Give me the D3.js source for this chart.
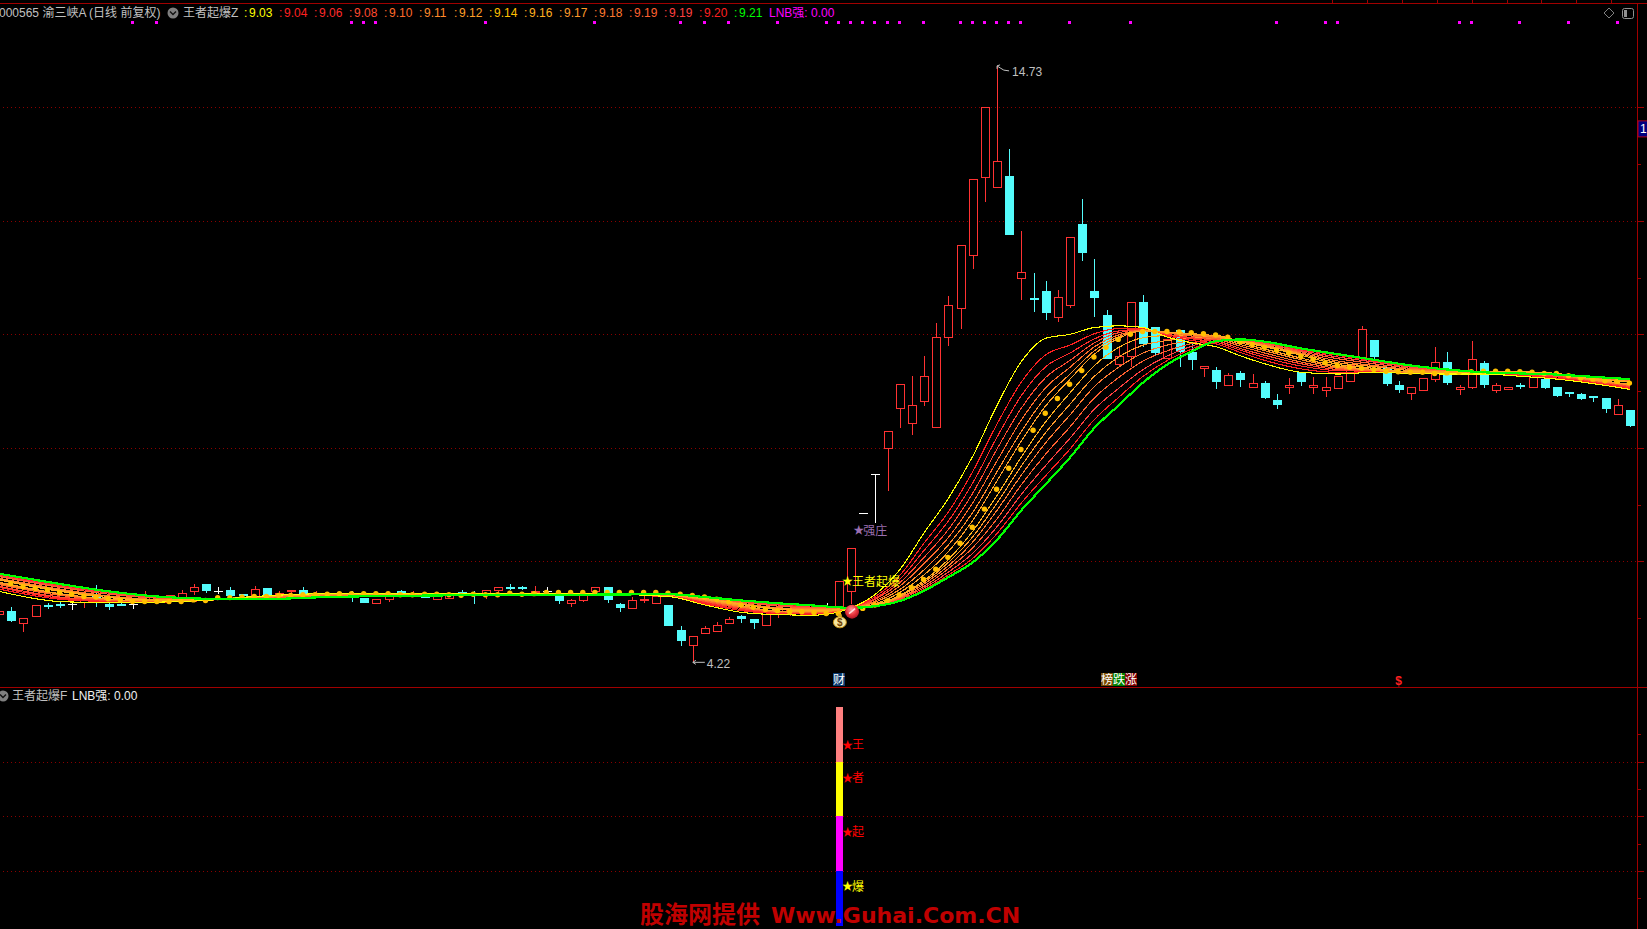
<!DOCTYPE html>
<html><head><meta charset="utf-8">
<style>
html,body{margin:0;padding:0;background:#000;overflow:hidden}
svg{display:block}
text{font-family:"Liberation Sans","Noto Sans CJK SC",sans-serif;font-size:12px}
.cjk{font-family:"Noto Sans CJK SC","Liberation Sans",sans-serif}
</style>
<script src="https://cdn.jsdelivr.net/npm/d3@7/dist/d3.min.js"></script>
</head><body><svg id="c" width="1647" height="929"></svg>
<script>
// ---------- candles, bars -1..133 ----------
const opens=[5.08,5.13,4.92,5.04,5.235,5.255,5.24,5.28,5.41,5.25,5.255,5.25,5.29,5.29,5.35,5.37,5.47,5.60,5.48,5.50,5.42,5.38,5.53,5.38,5.47,5.50,5.38,5.38,5.38,5.44,5.35,5.27,5.33,5.47,5.40,5.40,5.33,5.36,5.465,5.44,5.41,5.50,5.555,5.54,5.475,5.47,5.41,5.27,5.31,5.47,5.55,5.25,5.17,5.31,5.27,5.23,4.79,4.53,4.73,4.78,4.92,5.03,4.98,4.88,5.08,5.08,5.14,5.15,5.22,5.17,5.47,6.85,7.53,7.99,8.71,8.43,8.83,8.36,9.95,10.46,11.39,12.78,12.59,12.79,11.00,10.64,10.77,10.31,10.51,11.95,10.77,10.34,9.48,9.62,10.57,10.12,9.59,10.08,9.69,9.40,9.37,9.10,9.32,9.08,9.14,8.84,9.07,9.34,9.07,9.01,9.06,9.18,9.59,9.90,9.43,9.11,8.96,9.01,9.22,9.52,9.03,9.07,9.50,9.01,9.04,9.11,9.08,9.21,9.07,8.975,8.95,8.905,8.88,8.60,8.67];
const highs=[5.13,5.20,5.00,5.23,5.26,5.29,5.29,5.32,5.58,5.29,5.30,5.29,5.48,5.35,5.40,5.50,5.60,5.60,5.54,5.54,5.42,5.57,5.53,5.48,5.49,5.54,5.48,5.41,5.44,5.47,5.35,5.33,5.45,5.50,5.47,5.40,5.38,5.42,5.50,5.47,5.49,5.54,5.60,5.57,5.57,5.54,5.41,5.34,5.48,5.54,5.55,5.27,5.37,5.38,5.38,5.23,4.86,4.68,4.86,4.93,5.01,5.05,4.98,5.11,5.17,5.17,5.21,5.20,5.26,5.65,6.23,6.85,7.53,8.29,9.12,9.26,9.62,10.20,10.68,11.57,12.73,14.00,14.73,13.27,11.82,11.08,10.94,10.78,11.71,12.39,11.33,10.43,9.77,10.57,10.70,10.13,9.91,10.08,9.83,9.45,9.42,9.32,9.35,9.30,9.18,8.95,9.23,9.34,9.25,9.25,9.27,9.46,10.15,9.90,9.43,9.18,9.08,9.23,9.78,9.69,9.10,9.88,9.53,9.14,9.08,9.14,9.31,9.25,9.07,8.98,8.97,8.91,8.88,8.86,8.67];
const lows=[5.08,4.93,4.76,5.04,5.16,5.18,5.14,5.18,5.20,5.14,5.21,5.16,5.29,5.29,5.24,5.33,5.41,5.45,5.42,5.39,5.38,5.38,5.39,5.38,5.40,5.39,5.38,5.38,5.38,5.29,5.27,5.25,5.28,5.43,5.40,5.35,5.33,5.33,5.41,5.25,5.34,5.45,5.50,5.50,5.47,5.42,5.25,5.20,5.29,5.47,5.27,5.10,5.17,5.26,5.25,4.86,4.50,4.22,4.73,4.78,4.90,4.92,4.81,4.88,5.00,5.03,5.14,5.15,5.20,5.17,5.24,6.85,6.68,7.24,8.35,8.23,8.74,8.36,9.80,10.10,11.15,12.33,12.59,11.75,10.60,10.40,10.26,10.22,10.47,11.29,10.31,9.57,9.45,9.43,9.77,9.62,9.59,9.42,9.37,9.25,9.04,9.10,9.07,9.06,8.86,8.69,8.95,9.09,8.95,8.90,9.06,9.18,9.59,9.56,9.09,8.97,8.84,9.01,9.16,9.11,8.93,9.04,9.06,8.97,9.02,9.04,9.08,9.04,8.90,8.90,8.84,8.81,8.61,8.60,8.37];
const closes=[5.13,4.95,5.00,5.23,5.225,5.245,5.24,5.32,5.32,5.20,5.245,5.25,5.41,5.35,5.40,5.44,5.55,5.48,5.48,5.39,5.38,5.51,5.39,5.44,5.49,5.39,5.44,5.41,5.44,5.37,5.27,5.33,5.45,5.43,5.43,5.35,5.38,5.42,5.455,5.39,5.49,5.54,5.545,5.51,5.485,5.47,5.30,5.31,5.41,5.54,5.31,5.18,5.31,5.34,5.38,4.86,4.59,4.68,4.82,4.88,4.98,4.99,4.91,5.07,5.17,5.17,5.21,5.20,5.22,5.65,6.23,6.85,7.53,8.29,9.12,8.75,9.27,9.95,10.51,11.57,12.73,14.00,13.05,11.75,11.09,10.62,10.38,10.65,11.71,11.44,10.64,9.57,9.62,10.57,9.83,9.67,9.91,9.69,9.55,9.45,9.16,9.28,9.20,9.14,8.88,8.76,9.11,9.16,9.11,9.07,9.27,9.46,10.09,9.60,9.13,9.02,9.08,9.23,9.52,9.14,9.08,9.56,9.11,9.10,9.08,9.07,9.31,9.06,8.91,8.965,8.86,8.895,8.69,8.75,8.39];

// ---------- moving-average ribbon, read at these bars ----------
const ribbonBars=[-1,4,8,12,16,20,26,36,46,54,57,60,63,66,69,71,73,75,77,79,81,83,85,87,89,91,93,95,97,99,101,103,106,109,112,115,118,121,124,127,130,133];
const ma1=[5.47,5.29,5.27,5.28,5.31,5.38,5.43,5.44,5.44,5.38,5.23,5.10,5.06,5.05,5.18,5.42,5.85,6.50,7.11,7.85,8.75,9.52,9.93,10.00,10.12,10.15,10.12,9.95,9.85,9.78,9.62,9.48,9.33,9.30,9.33,9.31,9.30,9.30,9.26,9.21,9.13,9.03];
const ma2=[5.51,5.33,5.29,5.28,5.31,5.38,5.43,5.44,5.44,5.39,5.25,5.13,5.08,5.07,5.18,5.38,5.75,6.32,6.87,7.58,8.42,9.16,9.64,9.81,10.01,10.10,10.10,9.97,9.89,9.83,9.68,9.54,9.39,9.33,9.34,9.31,9.30,9.31,9.28,9.23,9.15,9.04];
const ma3=[5.54,5.35,5.30,5.29,5.31,5.38,5.43,5.44,5.44,5.39,5.27,5.15,5.09,5.08,5.18,5.35,5.68,6.19,6.71,7.38,8.19,8.92,9.43,9.67,9.92,10.06,10.09,9.99,9.92,9.86,9.72,9.59,9.44,9.36,9.35,9.32,9.31,9.32,9.29,9.25,9.16,9.06];
const ma4=[5.56,5.37,5.31,5.29,5.31,5.38,5.43,5.44,5.44,5.40,5.29,5.17,5.10,5.09,5.17,5.33,5.62,6.07,6.56,7.20,7.98,8.70,9.24,9.54,9.85,10.03,10.08,10.00,9.94,9.89,9.75,9.63,9.48,9.38,9.36,9.32,9.31,9.33,9.30,9.26,9.17,9.08];
const ma5=[5.59,5.40,5.32,5.29,5.31,5.38,5.42,5.43,5.43,5.40,5.30,5.19,5.11,5.10,5.17,5.30,5.56,5.96,6.42,7.03,7.77,8.49,9.06,9.42,9.78,9.99,10.07,10.02,9.97,9.92,9.79,9.67,9.51,9.40,9.36,9.32,9.31,9.33,9.31,9.28,9.18,9.10];
const ma6=[5.61,5.42,5.33,5.30,5.32,5.38,5.42,5.43,5.43,5.40,5.32,5.20,5.12,5.11,5.17,5.28,5.50,5.85,6.29,6.86,7.58,8.29,8.89,9.30,9.71,9.96,10.06,10.03,9.99,9.95,9.82,9.71,9.55,9.42,9.37,9.33,9.32,9.34,9.32,9.29,9.19,9.11];
const ma7=[5.63,5.43,5.33,5.30,5.32,5.38,5.42,5.43,5.43,5.41,5.33,5.22,5.12,5.11,5.17,5.25,5.45,5.76,6.17,6.72,7.42,8.12,8.74,9.21,9.65,9.93,10.06,10.04,10.01,9.97,9.85,9.74,9.58,9.44,9.38,9.33,9.32,9.35,9.33,9.30,9.20,9.12];
const ma9=[5.67,5.47,5.36,5.31,5.32,5.37,5.41,5.43,5.43,5.41,5.34,5.24,5.15,5.13,5.17,5.23,5.40,5.66,6.03,6.53,7.16,7.84,8.46,8.97,9.45,9.77,9.94,9.98,9.99,9.98,9.87,9.78,9.63,9.47,9.40,9.34,9.33,9.35,9.34,9.31,9.21,9.16];
const ma10=[5.69,5.49,5.38,5.32,5.33,5.37,5.41,5.42,5.42,5.41,5.35,5.25,5.17,5.15,5.17,5.22,5.38,5.63,5.98,6.43,7.03,7.68,8.27,8.77,9.26,9.60,9.81,9.89,9.94,9.96,9.88,9.80,9.65,9.50,9.43,9.36,9.34,9.34,9.33,9.30,9.22,9.17];
const ma11=[5.70,5.51,5.39,5.33,5.33,5.36,5.40,5.42,5.42,5.41,5.35,5.26,5.18,5.16,5.17,5.22,5.36,5.60,5.92,6.34,6.90,7.52,8.09,8.58,9.08,9.42,9.67,9.81,9.89,9.94,9.89,9.81,9.67,9.53,9.45,9.38,9.35,9.34,9.33,9.30,9.23,9.18];
const ma12=[5.73,5.54,5.42,5.35,5.33,5.35,5.39,5.41,5.42,5.42,5.36,5.28,5.21,5.18,5.18,5.22,5.35,5.56,5.87,6.24,6.75,7.35,7.89,8.37,8.88,9.24,9.53,9.71,9.84,9.93,9.89,9.83,9.69,9.57,9.48,9.40,9.35,9.34,9.32,9.30,9.23,9.19];
const ma13=[5.75,5.56,5.44,5.36,5.33,5.34,5.38,5.41,5.42,5.42,5.36,5.29,5.23,5.19,5.18,5.21,5.33,5.53,5.81,6.14,6.61,7.18,7.69,8.17,8.68,9.05,9.38,9.62,9.79,9.91,9.90,9.84,9.71,9.60,9.51,9.42,9.36,9.34,9.32,9.30,9.24,9.19];
const ma14=[5.76,5.58,5.45,5.37,5.34,5.34,5.38,5.40,5.41,5.42,5.37,5.30,5.24,5.21,5.18,5.21,5.31,5.50,5.76,6.05,6.49,7.03,7.51,7.98,8.50,8.89,9.26,9.54,9.74,9.89,9.91,9.86,9.73,9.63,9.53,9.44,9.37,9.33,9.31,9.29,9.25,9.20];
const ma15=[5.78,5.60,5.47,5.38,5.34,5.33,5.37,5.40,5.41,5.42,5.37,5.31,5.26,5.22,5.18,5.21,5.30,5.48,5.72,5.98,6.38,6.90,7.36,7.83,8.35,8.75,9.15,9.47,9.70,9.88,9.91,9.87,9.75,9.65,9.55,9.45,9.38,9.33,9.31,9.29,9.25,9.21];
// gold dotted middle line, bars 0..133
const ma8=[5.61,5.55,5.52,5.50,5.45,5.42,5.38,5.37,5.34,5.32,5.29,5.29,5.29,5.29,5.29,5.32,5.31,5.36,5.36,5.37,5.38,5.38,5.40,5.40,5.41,5.41,5.42,5.43,5.43,5.43,5.43,5.43,5.41,5.41,5.42,5.42,5.41,5.40,5.42,5.41,5.41,5.44,5.42,5.43,5.45,5.45,5.45,5.45,5.45,5.45,5.45,5.45,5.45,5.45,5.44,5.42,5.40,5.37,5.33,5.29,5.23,5.19,5.15,5.13,5.11,5.11,5.10,5.08,5.08,5.14,5.17,5.23,5.30,5.41,5.54,5.68,5.86,6.07,6.32,6.60,6.92,7.27,7.64,7.97,8.31,8.61,8.87,9.12,9.36,9.60,9.77,9.91,10.00,10.05,10.05,10.05,10.04,10.03,10.01,9.99,9.95,9.87,9.82,9.77,9.72,9.67,9.61,9.56,9.50,9.45,9.42,9.40,9.38,9.35,9.34,9.33,9.33,9.31,9.32,9.33,9.34,9.35,9.35,9.35,9.34,9.33,9.31,9.31,9.27,9.23,9.21,9.18,9.17,9.14];

const legendValues=["9.03","9.04","9.06","9.08","9.10","9.11","9.12","9.14","9.16","9.17","9.18","9.19","9.19","9.20","9.21"];
const legendColors=["#ffff00","#ff2020","#ff2a2a","#ff4a30","#ff6a2a","#ff8a2a","#ff9f28","#ffc000","#ffb020","#ff9a2a","#ff7a30","#ff6030","#ff4040","#ff2020","#00ff00"];
const signalBars=[10,12,28,29,30,39,48,55,57,59,63,67,68,69,70,71,72,73,75,78,79,80,81,82,83,87,92,104,108,109,119,120,124,128,132];
const priceGrid=[14,12,10,8,6];
const priceMinor=[13,11,9,7,5];
const lowerGrid=[1,2,3];
const lowerSegments=[[3,4,"#ff8080"],[2,3,"#ffff00"],[1,2,"#ff00ff"],[0,1,"#0000ff"]];
const lowerLabels=[["王",3.33,"#ff0000"],["者",2.72,"#ff0000"],["起",1.73,"#ff0000"],["爆",0.74,"#ffff00"]];
const lowerBar=68;
const tagCells=[["财",68,"#0a3a70"],["榜",90,"#7a4a00"],["跌",91,"#008000"],["涨",92,"#800000"]];

const AXIS="#a00000", GRID="#8a0000", UP="#ff3232", DOWN="#54fcfc";
const svg=d3.select("#c");
const bars=d3.range(-1,134);
const x=d3.scaleLinear().domain([0,133]).range([11.3,1629.9]);
const y=d3.scaleLinear().domain([14,6]).range([107.3,561.3]);
const yLow=d3.scaleLinear().domain([0,4]).range([925.5,707]);
const px=i=>Math.round(x(i));

svg.append("rect").attr("width",1647).attr("height",929).attr("fill","#000");

// grid
const grid=svg.append("g").attr("shape-rendering","crispEdges");
grid.selectAll(".g1").data(priceGrid).join("line").attr("x1",3).attr("x2",1637)
  .attr("y1",d=>Math.round(y(d))+.5).attr("y2",d=>Math.round(y(d))+.5)
  .attr("stroke",GRID).attr("stroke-dasharray","1,3");
grid.selectAll(".g2").data(lowerGrid).join("line").attr("x1",3).attr("x2",1637)
  .attr("y1",d=>Math.round(yLow(d))+.5).attr("y2",d=>Math.round(yLow(d))+.5)
  .attr("stroke",GRID).attr("stroke-dasharray","1,3");

// right axes, top line, panel split
function rightAxis(scale,major,minor){
  const g=svg.append("g").attr("transform","translate(1637.5,0)");
  g.call(d3.axisRight(scale).tickValues(major).tickSize(6).tickFormat(""));
  const g2=svg.append("g").attr("transform","translate(1637.5,0)");
  g2.call(d3.axisRight(scale).tickValues(minor).tickSize(3).tickFormat(""));
  [g,g2].forEach(a=>{a.attr("shape-rendering","crispEdges");a.selectAll("line").attr("stroke",AXIS);a.select(".domain").remove();});
}
rightAxis(y,priceGrid,priceMinor);
rightAxis(yLow,lowerGrid,[0.5,1.5,2.5,3.5]);
const frame=svg.append("g").attr("shape-rendering","crispEdges").attr("stroke",AXIS);
frame.append("line").attr("x1",0).attr("x2",1647).attr("y1",3.5).attr("y2",3.5);
frame.append("line").attr("x1",0).attr("x2",1647).attr("y1",687.5).attr("y2",687.5);
frame.append("line").attr("x1",1637.5).attr("x2",1637.5).attr("y1",3).attr("y2",929);
frame.selectAll(".t").data(d3.range(0,9)).join("line")
  .attr("x1",d=>1332.5+d*34.9).attr("x2",d=>1332.5+d*34.9).attr("y1",0).attr("y2",3);

// candles
const cg=svg.append("g").attr("shape-rendering","crispEdges");
bars.forEach((b,k)=>{
  const o=opens[k],h=highs[k],l=lows[k],c=closes[k],cx=px(b);
  const up=c>o, flat=c===o, col=flat?"#ffffff":(up?UP:DOWN);
  cg.append("line").attr("x1",cx+.5).attr("x2",cx+.5).attr("y1",y(h)).attr("y2",y(l)).attr("stroke",col);
  if(flat){
    cg.append("line").attr("x1",cx-4).attr("x2",cx+5).attr("y1",Math.round(y(o))+.5).attr("y2",Math.round(y(o))+.5).attr("stroke",col);
  }else if(up){
    cg.append("rect").attr("x",cx-3.5).attr("width",8).attr("y",Math.round(y(c))+.5)
      .attr("height",Math.max(1,Math.round(y(o))-Math.round(y(c)))).attr("fill","#000").attr("stroke",col);
  }else{
    cg.append("rect").attr("x",cx-4).attr("width",9).attr("y",Math.round(y(o)))
      .attr("height",Math.max(2,Math.round(y(c))-Math.round(y(o)))).attr("fill",col);
  }
});

// ribbon lines
const line=d3.line().x((d,i)=>x(ribbonBars[i])).y(d=>y(d)).curve(d3.curveMonotoneX);
const ribbon=svg.append("g").attr("fill","none").attr("shape-rendering","crispEdges");
[[ma14,13],[ma13,12],[ma12,11],[ma11,10],[ma10,9],[ma9,8],[ma2,1],[ma3,2],[ma4,3],[ma5,4],[ma6,5],[ma7,6],[ma1,0]].forEach(([s,c])=>{
  ribbon.append("path").attr("d",line(s)).attr("stroke",legendColors[c]).attr("stroke-width",1.1);
});
// gold dots
svg.append("g").selectAll("circle").data(ma8).join("circle")
  .attr("cx",(d,i)=>x(i)-.5).attr("cy",d=>y(d)).attr("r",2.7).attr("fill",legendColors[7]);
// green line on top
svg.append("path").attr("d",line(ma15)).attr("fill","none").attr("stroke",legendColors[14])
  .attr("stroke-width",2.2).attr("shape-rendering","crispEdges");

// signal squares
svg.append("g").attr("shape-rendering","crispEdges").selectAll("rect").data(signalBars).join("rect")
  .attr("x",d=>px(d)-2).attr("y",21).attr("width",3).attr("height",3).attr("fill","#ff00ff");

// title row
const T=(a,s,xx,yy,col,extra)=>{const t=svg.append(a||"text").attr("x",xx).attr("y",yy).attr("fill",col).text(s);if(extra)t.attr("class",extra);return t;};
T("text","000565 渝三峡A (日线 前复权)",-1,17,"#c0c0c0");
T("text","王者起爆Z",183,17,"#c0c0c0");
function icon(cx,cy){
  svg.append("circle").attr("cx",cx).attr("cy",cy).attr("r",5.5).attr("fill","#808080");
  svg.append("path").attr("d",`M${cx-3},${cy-1.5}L${cx},${cy+1.5}L${cx+3},${cy-1.5}`).attr("fill","none").attr("stroke","#111").attr("stroke-width",1.4);
}
icon(173,13); icon(3,696);
legendValues.forEach((v,i)=>{
  T("text",":",244+i*35,17,legendColors[i]);
  T("text",v,249+i*35,17,legendColors[i]);
});
T("text","LNB强: 0.00",769,17,"#ff00ff");

// lower-panel title
T("text","王者起爆F",12,700,"#c0c0c0");
T("text","LNB强: 0.00",72,700,"#f0f0f0");

// top-right icons
svg.append("path").attr("d","M1609,8L1614,13L1609,18L1604,13Z").attr("fill","none").attr("stroke","#808080");
svg.append("rect").attr("x",1622.5).attr("y",8.5).attr("width",11).attr("height",10).attr("rx",2).attr("fill","none").attr("stroke","#909090");
svg.append("rect").attr("x",1624).attr("y",10).attr("width",3).attr("height",7).attr("fill","#909090");

// price flag at right edge
const flagY=y(13.62);
svg.append("rect").attr("x",1638).attr("y",flagY-8).attr("width",10).attr("height",16).attr("fill","#000080").attr("stroke","#b00020");
T("text","1",1640,flagY+4,"#ffffff");

// low and high marks
const lowX=x(56),lowY=y(4.22);
svg.append("path").attr("d",`M${lowX+12},${lowY}H${lowX}M${lowX+3},${lowY-2}L${lowX},${lowY}L${lowX+3},${lowY+2}`).attr("fill","none").attr("stroke","#c0c0c0");
T("text","4.22",lowX+14,lowY+5.5,"#c0c0c0");
const hiX=x(81),hiY=y(14.73);
svg.append("path").attr("d",`M${hiX+12},${hiY+5}Q${hiX+6},${hiY+5} ${hiX+3},${hiY+2}L${hiX},${hiY}L${hiX},${hiY+3}M${hiX},${hiY}L${hiX+3},${hiY-1}`).attr("fill","none").attr("stroke","#c0c0c0");
T("text","14.73",hiX+15,hiY+10,"#c0c0c0");

// annotations: star then label
function starLabel(s,sx,cy,col){
  svg.append("text").attr("x",sx).attr("y",cy+4).attr("text-anchor","middle").attr("fill",col).style("font-size","11px").text("★");
  svg.append("text").attr("x",sx+4.5).attr("y",cy+4.5).attr("fill",col).text(s);
}
starLabel("王者起爆",x(68)+8.7,y(5.65),"#ffff00");
starLabel("强庄",x(70)-4.5,y(6.55),"#9b6fb0");

// ball and money bag
const defs=svg.append("defs");
const rg=defs.append("radialGradient").attr("id","ball").attr("cx","45%").attr("cy","35%").attr("r","70%");
rg.append("stop").attr("offset","0").attr("stop-color","#ff9a9a");
rg.append("stop").attr("offset",".55").attr("stop-color","#e8343c");
rg.append("stop").attr("offset","1").attr("stop-color","#a01020");
const ballX=x(69)+1,ballY=y(5.13)+1;
svg.append("circle").attr("cx",ballX).attr("cy",ballY).attr("r",7).attr("fill","url(#ball)");
svg.append("path").attr("d",`M${ballX-3},${ballY+2}L${ballX+3},${ballY-3}`).attr("stroke","#ffe0e0").attr("stroke-width",1.5);
const bagX=x(68)+1,bagY=y(4.96)+2;
svg.append("ellipse").attr("cx",bagX).attr("cy",bagY).attr("rx",6.5).attr("ry",5.5).attr("fill","#f6e6a0").attr("stroke","#c89010");
svg.append("rect").attr("x",bagX-2).attr("y",bagY-8).attr("width",4).attr("height",3).attr("fill","#d8a820");
svg.append("text").attr("x",bagX).attr("y",bagY+3.5).attr("text-anchor","middle").attr("fill","#704000").attr("font-weight","bold").style("font-size","10px").text("$");

// tag cells above the panel split
tagCells.forEach(([s,b,col])=>{
  const cx=Math.round(x(b));
  svg.append("rect").attr("x",cx-6).attr("y",673).attr("width",12).attr("height",13).attr("fill",col).attr("shape-rendering","crispEdges");
  svg.append("text").attr("x",cx).attr("y",684).attr("text-anchor","middle").attr("fill","#ffffff").text(s);
});
svg.append("text").attr("x",x(114)).attr("y",685).attr("text-anchor","middle").attr("fill","#ff2020").attr("font-weight","bold").text("$");

// lower panel bar
const lowG=svg.append("g").attr("shape-rendering","crispEdges");
lowG.selectAll("rect").data(lowerSegments).join("rect")
  .attr("x",x(lowerBar)-3).attr("width",7)
  .attr("y",d=>yLow(d[1])).attr("height",d=>yLow(d[0])-yLow(d[1])).attr("fill",d=>d[2]);
lowerLabels.forEach(([s,v,col])=>{
  starLabel(s,x(lowerBar)+8.7,yLow(v)+1,col);
});

// watermark
svg.append("text").attr("x",640).attr("y",923).attr("fill","#c00000").attr("font-weight","bold")
  .attr("class","cjk").style("font-size","24px").text("股海网提供");
svg.append("text").attr("x",771).attr("y",923).attr("fill","#c00000").attr("font-weight","bold")
  .style("font-family","'DejaVu Sans'").style("font-size","22px").text("Www.Guhai.Com.CN");
</script></body></html>
